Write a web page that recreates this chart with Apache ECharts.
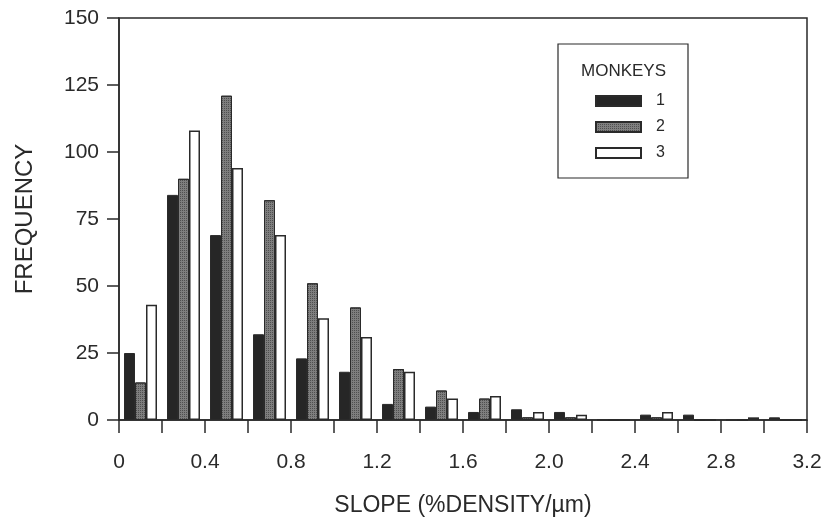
<!DOCTYPE html>
<html>
<head>
<meta charset="utf-8">
<script src="https://cdn.jsdelivr.net/npm/echarts@6/dist/echarts.min.js"></script>
<style>
  html, body { margin: 0; padding: 0; background: #fff; }
  #chart { width: 826px; height: 523px; }
</style>
</head>
<body>
<div id="chart"></div>
<script>
// bins of 0.2 from 0 to 3.2
var bins = ['0.0','0.2','0.4','0.6','0.8','1.0','1.2','1.4','1.6','1.8','2.0','2.2','2.4','2.6','2.8','3.0'];
var monkey1 = [25, 84, 69, 32, 23, 18, 6, 5, 3, 4, 3, 0, 2, 2, 0, 1];
var monkey2 = [14, 90, 121, 82, 51, 42, 19, 11, 8, 1, 1, 0, 1, 0, 0, 0];
var monkey3 = [43, 108, 94, 69, 38, 31, 18, 8, 9, 3, 2, 0, 3, 0, 1, 0];
var xTickLabels = ['0', '0.4', '0.8', '1.2', '1.6', '2.0', '2.4', '2.8', '3.2'];
var yTicks = [0, 25, 50, 75, 100, 125, 150];

var font = 'Liberation Sans, Arial, sans-serif';
var ink = '#2a2a2a';

var chart = echarts.init(document.getElementById('chart'));

var option = {
    animation: false,
    title: {
        text: 'MONKEYS',
        left: 576,
        top: 58,
        textStyle: { fontFamily: font, fontSize: 17, fontWeight: 'normal', color: ink }
    },
    legend: {
        orient: 'vertical',
        left: 590,
        top: 88,
        icon: 'rect',
        itemWidth: 45,
        itemHeight: 10,
        itemGap: 10,
        textStyle: { fontFamily: font, fontSize: 16, lineHeight: 14, color: ink, padding: [0, 0, 0, 10] },
        data: ['1', '2', '3']
    },
    graphic: [{
        type: 'rect',
        shape: { x: 558, y: 44, width: 130, height: 134 },
        style: { fill: 'none', stroke: ink, lineWidth: 1.2 }
    }],
    grid: {
        left: 119, right: 19, top: 18, bottom: 103,
        show: true, borderColor: ink, borderWidth: 1.5
    },
    xAxis: [{
        type: 'category',
        data: bins,
        show: false
    }, {
        type: 'value',
        position: 'bottom',
        min: 0, max: 3.2, interval: 0.2,
        name: 'SLOPE (%DENSITY/\u00b5m)',
        nameLocation: 'middle',
        nameGap: 74,
        nameTextStyle: { fontFamily: font, fontSize: 23, color: ink },
        axisLine: { lineStyle: { color: ink, width: 1.5 } },
        axisTick: { length: 13, lineStyle: { color: ink, width: 1.5 } },
        splitLine: { show: false },
        axisLabel: {
            margin: 32,
            fontFamily: font, fontSize: 21, color: ink,
            formatter: function (v) {
                var k = Math.round(v * 10);
                return k % 4 === 0 ? xTickLabels[k / 4] : '';
            }
        }
    }],
    yAxis: {
        type: 'value',
        min: 0, max: 150, interval: 25,
        name: 'FREQUENCY',
        nameLocation: 'middle',
        nameGap: 82,
        nameTextStyle: { fontFamily: font, fontSize: 24, color: ink },
        axisLine: { show: true, lineStyle: { color: ink, width: 1.5 } },
        axisTick: { show: true, length: 12, lineStyle: { color: ink, width: 1.5 } },
        splitLine: { show: false },
        axisLabel: {
            margin: 20,
            fontFamily: font, fontSize: 21, color: ink,
            formatter: function (v) { return yTicks.indexOf(v) >= 0 ? String(v) : ''; }
        }
    },
    series: [{
        name: '1', type: 'bar', xAxisIndex: 0, data: monkey1,
        barWidth: 11, barGap: '0%',
        itemStyle: { color: '#262626', borderColor: ink, borderWidth: 1 }
    }, {
        name: '2', type: 'bar', xAxisIndex: 0, data: monkey2,
        barWidth: 11, barGap: '0%',
        itemStyle: {
            color: '#7e7e7e', borderColor: ink, borderWidth: 1,
            decal: {
                symbol: 'rect', color: 'rgba(40,40,40,0.55)',
                dashArrayX: [1, 1], dashArrayY: [1, 1], symbolSize: 1, rotation: 0
            }
        }
    }, {
        name: '3', type: 'bar', xAxisIndex: 0, data: monkey3,
        barWidth: 11, barGap: '0%',
        itemStyle: { color: '#ffffff', borderColor: ink, borderWidth: 1.5 }
    }]
};

chart.setOption(option);
window.addEventListener('resize', function () {
    chart.resize();
});
</script>
</body>
</html>
